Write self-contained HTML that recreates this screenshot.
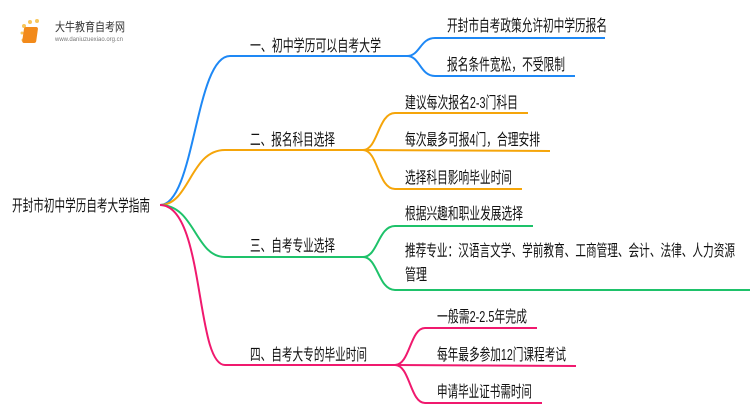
<!DOCTYPE html>
<html><head><meta charset="utf-8"><style>
html,body{margin:0;padding:0;background:#fff;width:750px;height:410px;overflow:hidden}
text{font-family:"Liberation Sans","Noto Sans CJK SC",sans-serif;font-size:16px;fill:#111}
</style></head><body>
<svg width="750" height="410" viewBox="0 0 750 410" xmlns="http://www.w3.org/2000/svg">
<g>
<circle cx="24" cy="26" r="2" fill="#f8c65a"/><circle cx="30" cy="22" r="2" fill="#f8c65a"/><circle cx="37" cy="21" r="2" fill="#f8c65a"/><circle cx="22" cy="33" r="1.5" fill="#f8c65a"/><circle cx="23" cy="40" r="1.5" fill="#f8c65a"/>
<rect x="28" y="27" width="14" height="16" rx="2" fill="#f28a1a" transform="skewX(-8)"/>
<text x="55" y="31" style="font-size:12px;fill:#333" textLength="70" lengthAdjust="spacingAndGlyphs">大牛教育自考网</text>
<text x="55" y="41" style="font-size:6px;fill:#777" textLength="68" lengthAdjust="spacingAndGlyphs">www.daniuzuexiao.org.cn</text>
</g>
<text x="12" y="211" textLength="138" lengthAdjust="spacingAndGlyphs">开封市初中学历自考大学指南</text>
<g fill="none" stroke-width="2">
<path d="M160 205 C195 205,195 56,230 56 L407 56" stroke="#1e88f5"/>
<path d="M407 56 C420 56,420 38,435 38 L605 38" stroke="#1e88f5"/>
<path d="M407 56 C420 56,420 76,435 76 L575 76" stroke="#1e88f5"/>
<path d="M160 205 C190 205,190 150,225 150 L363 150" stroke="#f5a50a"/>
<path d="M363 150 C378 150,378 113,395 113 L528 113" stroke="#f5a50a"/>
<path d="M363 150 L550 151" stroke="#f5a50a"/>
<path d="M363 150 C378 150,378 189,395 189 L522 189" stroke="#f5a50a"/>
<path d="M160 205 C195 205,195 257,225 257 L363 257" stroke="#1ec26a"/>
<path d="M363 257 C378 257,378 226,395 226 L533 226" stroke="#1ec26a"/>
<path d="M363 257 C378 257,378 290,395 290 L750 290" stroke="#1ec26a"/>
<path d="M160 205 C205 205,195 365,225 365 L395 365" stroke="#f0196e"/>
<path d="M395 365 C410 365,410 328,425 328 L537 328" stroke="#f0196e"/>
<path d="M395 365 L576 366" stroke="#f0196e"/>
<path d="M395 365 C410 365,410 403,425 403 L542 403" stroke="#f0196e"/>
</g>
<text x="250" y="51" textLength="131" lengthAdjust="spacingAndGlyphs">一、初中学历可以自考大学</text>
<text x="447" y="31" textLength="160" lengthAdjust="spacingAndGlyphs">开封市自考政策允许初中学历报名</text>
<text x="447" y="70" textLength="118" lengthAdjust="spacingAndGlyphs">报名条件宽松，不受限制</text>
<text x="250" y="145" textLength="85" lengthAdjust="spacingAndGlyphs">二、报名科目选择</text>
<text x="405" y="108" textLength="113" lengthAdjust="spacingAndGlyphs">建议每次报名2-3门科目</text>
<text x="405" y="145" textLength="135" lengthAdjust="spacingAndGlyphs">每次最多可报4门，合理安排</text>
<text x="405" y="183" textLength="107" lengthAdjust="spacingAndGlyphs">选择科目影响毕业时间</text>
<text x="250" y="251" textLength="85" lengthAdjust="spacingAndGlyphs">三、自考专业选择</text>
<text x="405" y="219" textLength="118" lengthAdjust="spacingAndGlyphs">根据兴趣和职业发展选择</text>
<text x="405" y="256" textLength="330" lengthAdjust="spacingAndGlyphs">推荐专业：汉语言文学、学前教育、工商管理、会计、法律、人力资源</text>
<text x="405" y="280" textLength="22" lengthAdjust="spacingAndGlyphs">管理</text>
<text x="250" y="360" textLength="117" lengthAdjust="spacingAndGlyphs">四、自考大专的毕业时间</text>
<text x="437" y="322" textLength="90" lengthAdjust="spacingAndGlyphs">一般需2-2.5年完成</text>
<text x="437" y="360" textLength="129" lengthAdjust="spacingAndGlyphs">每年最多参加12门课程考试</text>
<text x="437" y="397" textLength="95" lengthAdjust="spacingAndGlyphs">申请毕业证书需时间</text>
</svg>
</body></html>
